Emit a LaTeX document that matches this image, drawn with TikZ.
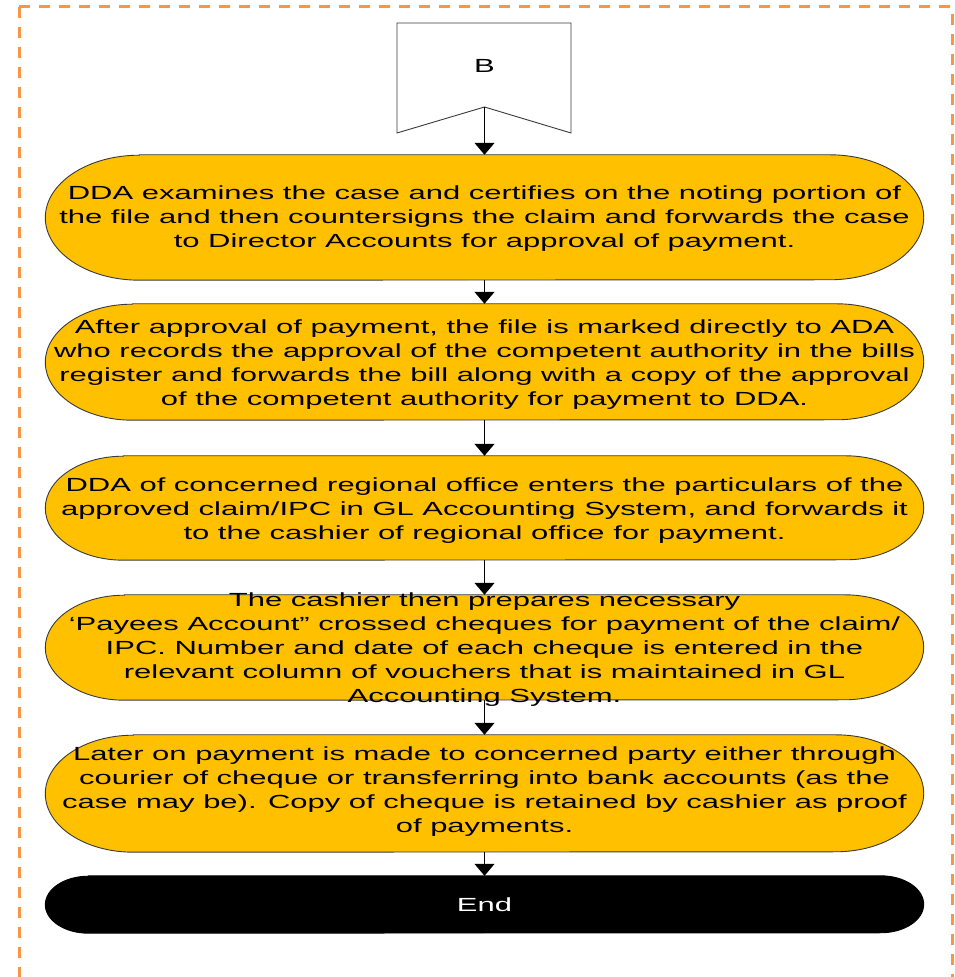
\documentclass[tikz,border=0pt]{standalone}
\usepackage{fontspec}
\setmainfont{Liberation Sans}[FakeStretch=1.63]
\usetikzlibrary{arrows.meta,calc}
\pgfdeclarelayer{background}
\pgfsetlayers{background,main}
\definecolor{boxgold}{HTML}{FFC000}
\definecolor{frameorange}{HTML}{F79646}
\definecolor{edgegrey}{HTML}{3A3A3A}

% pill outline with elliptical ends: #1 node, #2 x radius, #3 y radius, #4 style
\newcommand\pillbox[4]{%
  \path[#4] ($(#1.north west)+(#2,0)$) -- ($(#1.north east)+(-#2,0)$)
    arc[start angle=90, end angle=-90, x radius=#2, y radius=#3]
    -- ($(#1.south west)+(#2,0)$)
    arc[start angle=270, end angle=90, x radius=#2, y radius=#3] -- cycle;}

\begin{document}
\begin{tikzpicture}[x=1pt,y=1pt,
  slot/.style={inner sep=0pt, minimum width=878pt, draw=none},
  steptext/.style={align=center, inner sep=0pt, font=\fontsize{19}{24}\selectfont},
  flow/.style={line width=1.3pt, -{Triangle[width=20pt,length=12pt]}},
  goldpill/.style={fill=boxgold, draw=edgegrey, line width=0.9pt},
  blackpill/.style={fill=black, draw=black, line width=0.9pt},
  outline/.style={draw=edgegrey, fill=white, line width=0.9pt},
  frame/.style={draw=frameorange, line width=3pt, dash pattern=on 11pt off 9pt},
]
\useasboundingbox (0,0) rectangle (955,977);

% dashed frame, open at the bottom
\draw[frame] (19,970) -- (952,970) -- (952,0);
\draw[frame] (19,970) -- (19,0);

% off-page connector B
\coordinate (Bn) at (484.5,870);
\draw[outline] (397,954) -- (571,954) -- (571,844) -- (Bn) -- (397,844) -- cycle;
\node[steptext] (B) at (484.5,911.5) {B};

% step slots
\node[slot, minimum height=125pt] (d1) at (484.5,759.5) {};
\node[slot, minimum height=116pt] (d2) at (484.5,615) {};
\node[slot, minimum height=104pt] (d3) at (484.5,469) {};
\node[slot, minimum height=105pt] (d4) at (484.5,329.5) {};
\node[slot, minimum height=117pt] (d5) at (484.5,183.5) {};
\node[slot, minimum height=57pt] (fin) at (484.5,72.5) {};

\begin{pgfonlayer}{background}
  \pillbox{d1}{94}{62.5}{goldpill}
  \pillbox{d2}{87}{58}{goldpill}
  \pillbox{d3}{78}{52}{goldpill}
  \pillbox{d4}{79}{52.5}{goldpill}
  \pillbox{d5}{88}{58.5}{goldpill}
  \pillbox{fin}{43}{28.5}{blackpill}
\end{pgfonlayer}

\node[steptext] (t1) at ($(d1)+(0,-1)$) {DDA examines the case and certifies on the noting portion of\\
the file and then countersigns the claim and forwards the case\\
to Director Accounts for approval of payment.};
\node[steptext] (t2) at ($(d2)+(0,-2.5)$) {After approval of payment, the file is marked directly to ADA\\
who records the approval of the competent authority in the bills\\
register and forwards the bill along with a copy of the approval\\
of the competent authority for payment to DDA.};
\node[steptext] (t3) at ($(d3)+(0,-3)$) {DDA of concerned regional office enters the particulars of the\\
approved claim/IPC in GL Accounting System, and forwards it\\
to the cashier of regional office for payment.};
\node[steptext] (t4) at ($(d4)+(0,-2.5)$) {The cashier then prepares necessary\\
‘Payees Account” crossed cheques for payment of the claim/\\
IPC. Number and date of each cheque is entered in the\\
relevant column of vouchers that is maintained in GL\\
Accounting System.};
\node[steptext] (t5) at ($(d5)+(0,1.5)$) {Later on payment is made to concerned party either through\\
courier of cheque or transferring into bank accounts (as the\\
case may be). Copy of cheque is retained by cashier as proof\\
of payments.};
\node[steptext, text=white] (t6) at (fin) {End};

% connectors
\draw[flow] (Bn) -- (d1.north);
\draw[flow] (d1.south) -- (d2.north);
\draw[flow] (d2.south) -- (d3.north);
\draw[flow] (d3.south) -- (d4.north);
\draw[flow] (d4.south) -- (d5.north);
\draw[flow] (d5.south) -- (fin.north);
\end{tikzpicture}
\end{document}
